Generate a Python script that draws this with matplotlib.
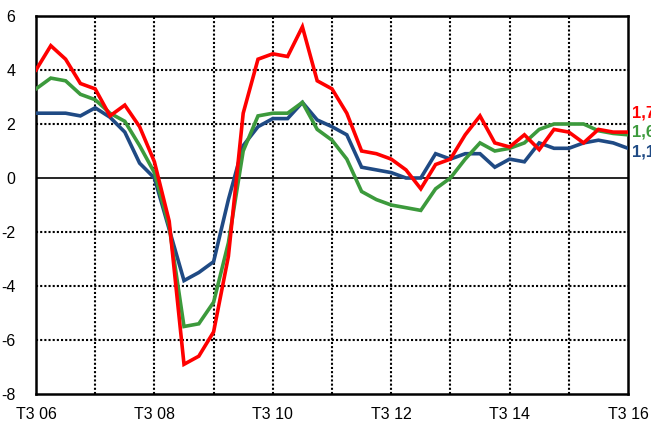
import matplotlib
matplotlib.use("Agg")
import matplotlib.pyplot as plt
import numpy as np

plt.rcParams['font.family'] = ['Liberation Sans', 'DejaVu Sans']

red = [4.0, 4.9, 4.4, 3.5, 3.3, 2.3, 2.7, 1.9, 0.6, -1.6,
       -6.9, -6.6, -5.7, -2.9, 2.4, 4.4, 4.6, 4.5, 5.6, 3.6,
       3.3, 2.4, 1.0, 0.9, 0.7, 0.3, -0.4, 0.5, 0.7, 1.6,
       2.3, 1.3, 1.15, 1.6, 1.05, 1.8, 1.7, 1.3, 1.8, 1.7, 1.7]
green = [3.3, 3.7, 3.6, 3.1, 2.9, 2.4, 2.1, 1.2, 0.2, -1.8,
         -5.5, -5.4, -4.6, -2.4, 1.0, 2.3, 2.4, 2.4, 2.8, 1.8,
         1.4, 0.7, -0.5, -0.8, -1.0, -1.1, -1.2, -0.4, 0.0, 0.7,
         1.3, 1.0, 1.1, 1.3, 1.8, 2.0, 2.0, 2.0, 1.75, 1.65, 1.6]
blue = [2.4, 2.4, 2.4, 2.3, 2.6, 2.25, 1.7, 0.55, 0.0, -1.9,
        -3.8, -3.5, -3.1, -0.8, 1.2, 1.9, 2.2, 2.2, 2.8, 2.15,
        1.9, 1.6, 0.4, 0.3, 0.2, 0.0, 0.0, 0.9, 0.7, 0.9,
        0.9, 0.4, 0.7, 0.6, 1.3, 1.1, 1.1, 1.3, 1.4, 1.3, 1.1]
tick_labels = ["T3 06", "", "T3 08", "", "T3 10", "", "T3 12", "", "T3 14", "", "T3 16"]
end_labels = ["1,7", "1,6", "1,1"]

c_red = "#FF0000"
c_green = "#3C9A3C"
c_blue = "#1F4A84"

fig = plt.figure(figsize=(6.51, 4.23), dpi=100)
ax = fig.add_axes([36/651, 29/423, 592/651, 378/423])

x = np.arange(len(red))
ax.set_xlim(0, 40)
ax.set_ylim(-8, 6)

for yv in range(-6, 7, 2):
    if yv == 0:
        continue
    ax.axhline(yv, color="black", lw=1.5, ls=(0, (1, 1)), zorder=1)
for xv in range(4, 40, 4):
    ax.axvline(xv, color="black", lw=1.5, ls=(0, (1, 1)), zorder=1)
ax.axhline(0, color="black", lw=1.2, zorder=2)

ax.plot(x, blue, color=c_blue, lw=2.6, zorder=3, solid_joinstyle="miter")
ax.plot(x, green, color=c_green, lw=2.6, zorder=4, solid_joinstyle="miter")
ax.plot(x, red, color=c_red, lw=2.6, zorder=5, solid_joinstyle="miter")

ax.set_xticks(range(0, 41, 4))
ax.set_xticklabels(tick_labels)
ax.set_yticks(range(-8, 7, 2))
ax.set_yticklabels([str(v) for v in range(-8, 7, 2)])
ax.tick_params(axis="both", length=0, labelsize=11.5)
ax.tick_params(axis="y", pad=15)
ax.tick_params(axis="x", pad=9)

for s in ax.spines.values():
    s.set_linewidth(1.8)
    s.set_color("black")

label_y = [2.41, 1.70, 0.96]
for txt, yv, col in zip(end_labels, label_y, [c_red, c_green, c_blue]):
    ax.annotate(txt, xy=(40, yv), xytext=(3, 0), textcoords="offset points",
                color=col, fontsize=12, fontweight="bold", va="center",
                ha="left", annotation_clip=False)

fig.savefig("out.png", dpi=100)
